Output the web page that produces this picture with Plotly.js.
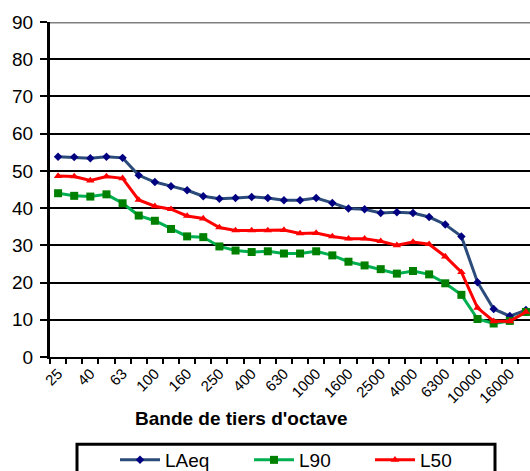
<!DOCTYPE html>
<html>
<head>
<meta charset="utf-8">
<script src="https://cdn.plot.ly/plotly-3.0.1.min.js"></script>
<style>
html,body{margin:0;padding:0;overflow:hidden;background:#fff;width:530px;height:471px;}
#chart{width:536px;height:471px;}
</style>
</head>
<body>
<div id="chart"></div>
<script>
const bands = ["25","31.5","40","50","63","80","100","125","160","200","250","315","400","500","630","800","1000","1250","1600","2000","2500","3150","4000","5000","6300","8000","10000","12500","16000","20000"];
const tickLabels = ["25","","40","","63","","100","","160","","250","","400","","630","","1000","","1600","","2500","","4000","","6300","","10000","","16000",""];
const laeq = [53.8,53.7,53.4,53.8,53.5,48.8,47.0,45.9,44.8,43.2,42.5,42.7,43.0,42.7,42.1,42.1,42.7,41.4,39.9,39.7,38.7,38.9,38.7,37.6,35.6,32.4,20.1,12.9,11.0,12.6];
const l90 = [44.0,43.3,43.1,43.7,41.3,38.0,36.6,34.4,32.4,32.2,29.7,28.6,28.2,28.4,27.8,27.8,28.4,27.3,25.6,24.6,23.6,22.4,23.1,22.2,19.8,16.7,10.2,9.0,9.7,12.1];
const l50 = [48.6,48.5,47.4,48.5,48.0,42.2,40.5,39.7,37.9,37.2,34.8,34.0,34.0,34.0,34.1,33.2,33.3,32.4,31.8,31.8,31.1,30.0,30.9,30.3,27.0,22.8,13.2,9.6,9.6,12.1];
const seriesNames = ["LAeq","L90","L50"];

const font = "Liberation Sans, Arial, sans-serif";
const traces = [
  {x: bands, y: laeq, name: seriesNames[0], type: "scatter", mode: "lines+markers", legendwidth: 79,
   line: {color: "#2B4B7A", width: 3}, marker: {symbol: "diamond", size: 6.5, color: "#000080"}},
  {x: bands, y: l90, name: seriesNames[1], type: "scatter", mode: "lines+markers", legendwidth: 66,
   line: {color: "#00B050", width: 3}, marker: {symbol: "square", size: 8, color: "#008000"}},
  {x: bands, y: l50, name: seriesNames[2], type: "scatter", mode: "lines+markers", legendwidth: 60,
   line: {color: "#FF0000", width: 3}, marker: {symbol: "triangle-up", size: 7.5, color: "#FF0000"}}
];

const plotW = 536 - 50 - 2, plotH = 471 - 22 - 113.5, plotB = 471 - 113.5;
const layout = {
  width: 536, height: 471,
  margin: {l: 50, r: 2, t: 22, b: 113.5},
  paper_bgcolor: "#fff", plot_bgcolor: "#fff",
  font: {family: font, color: "#000"},
  showlegend: true,
  xaxis: {
    type: "category", categoryorder: "array", categoryarray: bands,
    range: [-0.5, 29.5],
    tickmode: "array", tickvals: bands, ticktext: tickLabels,
    tickson: "boundaries", ticks: "outside", ticklen: 5, tickwidth: 2, tickcolor: "#000",
    tickangle: -45, tickfont: {size: 15, family: font},
    showline: true, linecolor: "#000", linewidth: 2,
    showgrid: false, zeroline: false
  },
  yaxis: {
    range: [0, 90], dtick: 10, tick0: 0,
    ticks: "outside", ticklen: 7, tickwidth: 2, tickcolor: "#000",
    tickfont: {size: 19, family: font}, ticklabelstandoff: 3,
    showline: true, linecolor: "#000", linewidth: 3,
    showgrid: true, gridcolor: "#000", gridwidth: 2,
    zeroline: false
  },
  shapes: [
    {type: "line", xref: "paper", yref: "y", x0: 0, x1: 1, y0: 90, y1: 90, line: {color: "#808080", width: 3}},
    {type: "rect", xref: "paper", yref: "paper",
     x0: (77 - 50) / plotW, x1: (495 - 50) / plotW,
     y0: (plotB - 445) / plotH, y1: (plotB - 485) / plotH,
     line: {color: "#000", width: 3}, fillcolor: "rgba(0,0,0,0)"}
  ],
  annotations: [
    {text: "<b>Bande de tiers d'octave</b>", xref: "paper", yref: "paper",
     x: (241 - 50) / plotW, y: (plotB - 419) / plotH,
     xanchor: "center", yanchor: "middle", showarrow: false, font: {size: 19, family: font}}
  ],
  legend: {
    orientation: "h", xref: "container", yref: "container",
    x: 115 / 536, xanchor: "left", y: 1 - 441 / 471, yanchor: "top",
    borderwidth: 0, bgcolor: "rgba(0,0,0,0)",
    font: {size: 19, family: font}, itemwidth: 40
  }
};

Plotly.newPlot("chart", traces, layout, {displayModeBar: false, staticPlot: true});
</script>
</body>
</html>
